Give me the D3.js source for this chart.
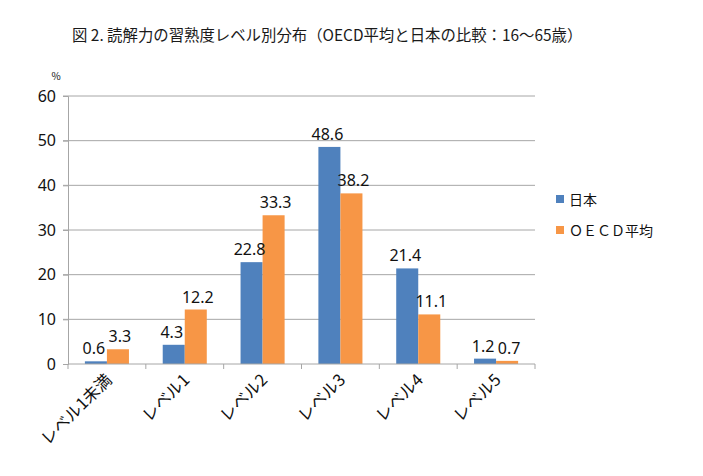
<!DOCTYPE html>
<html>
<head>
<meta charset="utf-8">
<script src="https://cdn.jsdelivr.net/npm/d3@7"></script>
<style>
  body { margin: 0; background: #fff; }
  text { font-family: "Noto Sans CJK JP", "Noto Sans", sans-serif; fill: #111; }
</style>
</head>
<body>
<div id="chart"></div>
<script>
// 読解力の習熟度レベル別分布
const categories = ["レベル1未満", "レベル1", "レベル2", "レベル3", "レベル4", "レベル5"];
const seriesNames = ["日本", "ＯＥＣＤ平均"];
const japan = [0.6, 4.3, 22.8, 48.6, 21.4, 1.2];
const oecd = [3.3, 12.2, 33.3, 38.2, 11.1, 0.7];
const yTicks = [0, 10, 20, 30, 40, 50, 60];
const colors = ["#4F81BD", "#F79646"];

const width = 703, height = 476;
const plot = { left: 68, right: 535, top: 96, bottom: 364 };

const svg = d3.select("#chart").append("svg")
  .attr("width", width).attr("height", height);

// タイトル
svg.append("text")
  .attr("x", 72).attr("y", 41)
  .style("font-size", "15.4px")
  .style("fill", "#1a1a1a")
  .text("図 2.  読解力の習熟度レベル別分布（OECD平均と日本の比較：16～65歳）");

const x = d3.scaleBand().domain(categories).range([plot.left, plot.right]);
const y = d3.scaleLinear().domain([0, 60]).range([plot.bottom, plot.top]);
const barW = x.bandwidth() * 0.283;

// グリッド線
svg.append("g").selectAll("line").data(yTicks.filter(d => d > 0)).enter().append("line")
  .attr("x1", plot.left - 5).attr("x2", plot.right)
  .attr("y1", d => y(d)).attr("y2", d => y(d))
  .attr("stroke", "#a6a6a6").attr("stroke-width", 1);

// Y軸
const yAxis = svg.append("g")
  .attr("transform", `translate(${plot.left},0)`)
  .call(d3.axisLeft(y).tickValues(yTicks).tickSize(5).tickPadding(7));
yAxis.select(".domain").attr("stroke", "#a6a6a6");
yAxis.selectAll(".tick line").attr("stroke", "#a6a6a6");
yAxis.selectAll("text").style("font-size", "16px").style("font-family", "\"Noto Sans\", sans-serif").attr("fill", "#111");

svg.append("text")
  .attr("x", 56).attr("y", 80)
  .attr("text-anchor", "middle")
  .style("font-size", "10px")
  .text("%");

// 棒
const data = categories.map((c, i) => ({ c, vals: [japan[i], oecd[i]] }));
const groups = svg.append("g").selectAll("g").data(data).enter().append("g")
  .attr("transform", d => `translate(${x(d.c) + x.bandwidth() / 2},0)`);

groups.selectAll("rect").data(d => d.vals).enter().append("rect")
  .attr("x", (d, i) => i === 0 ? -barW : 0)
  .attr("y", d => y(d))
  .attr("width", barW)
  .attr("height", d => y(0) - y(d))
  .attr("fill", (d, i) => colors[i]);

// データラベル
groups.selectAll("text.val").data(d => d.vals).enter().append("text")
  .attr("class", "val")
  .attr("x", (d, i) => i === 0 ? -barW / 2 - 2 : barW / 2 + 2)
  .attr("y", d => y(d) - 7)
  .attr("text-anchor", "middle")
  .style("font-size", "16px")
  .style("font-family", "\"Noto Sans\", sans-serif")
  .text(d => d.toFixed(1));

// X軸
const xAxis = svg.append("g")
  .attr("transform", `translate(0,${plot.bottom})`);
xAxis.append("line")
  .attr("x1", plot.left).attr("x2", plot.right)
  .attr("stroke", "#a6a6a6");
xAxis.selectAll("line.tk").data(d3.range(categories.length + 1)).enter().append("line")
  .attr("class", "tk")
  .attr("x1", i => plot.left + i * x.step()).attr("x2", i => plot.left + i * x.step())
  .attr("y1", 0).attr("y2", 5)
  .attr("stroke", "#a6a6a6");
xAxis.selectAll("text").data(categories).enter().append("text")
  .attr("transform", d => `translate(${x(d) + x.bandwidth() / 2 + 6},${17}) rotate(-45)`)
  .attr("text-anchor", "end")
  .style("font-size", "16.5px")
  .text(d => d);

// 凡例
const legend = svg.append("g").attr("transform", "translate(556,200)");
seriesNames.forEach((n, i) => {
  const g = legend.append("g").attr("transform", `translate(0,${i * 31})`);
  g.append("rect").attr("x", 0).attr("y", -5).attr("width", 8).attr("height", 8).attr("fill", colors[i]);
  g.append("text").attr("x", 13).attr("y", 5).style("font-size", "14px").text(n);
});
</script>
</body>
</html>
